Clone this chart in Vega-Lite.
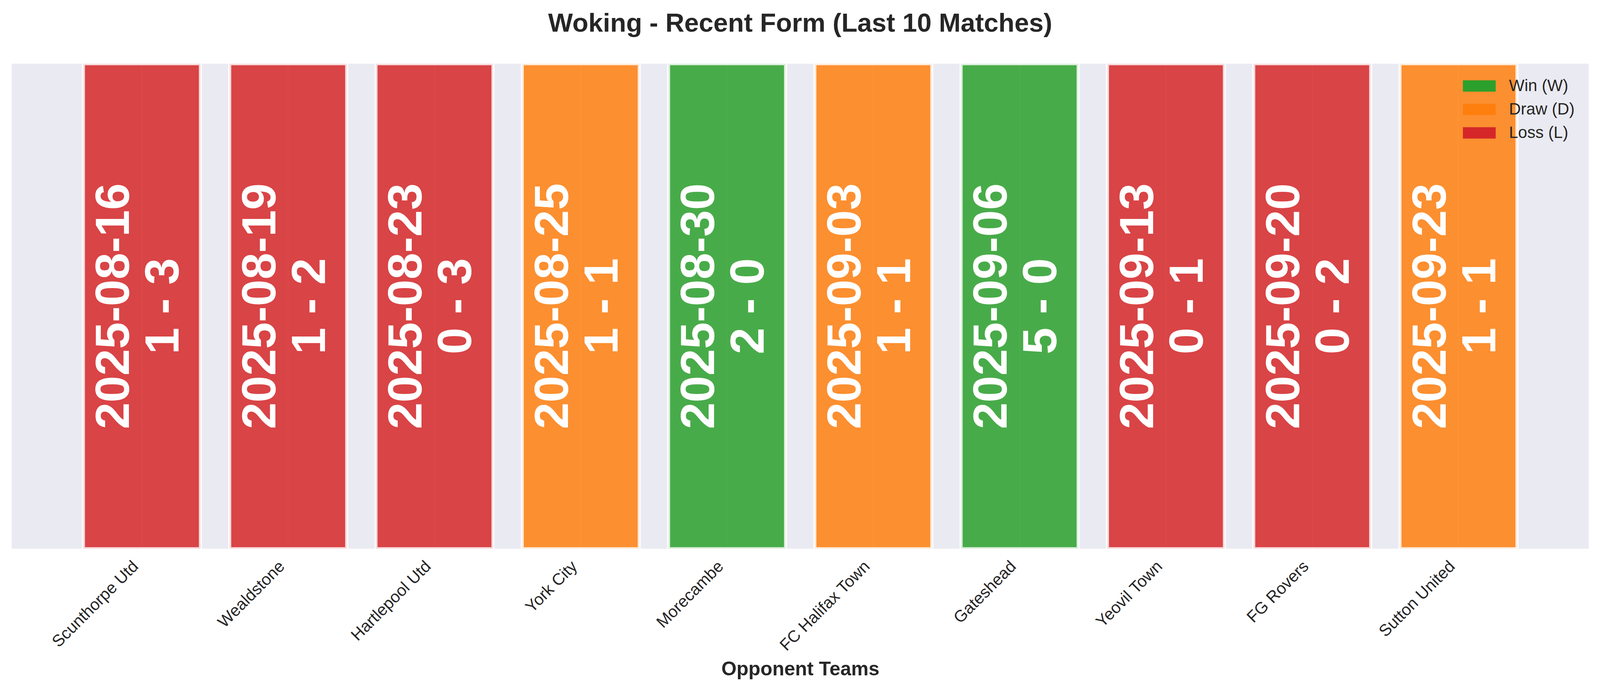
{
  "$schema": "https://vega.github.io/schema/vega-lite/v6.json",
  "autosize": {"type": "fit-x", "contains": "padding"},
  "width": "container",
  "height": 1241,
  "padding": {"left": 30, "top": 27, "right": 29, "bottom": 20},
  "background": "white",
  "title": {
    "text": "Woking - Recent Form (Last 10 Matches)",
    "fontSize": 67,
    "fontWeight": "bold",
    "font": "Liberation Sans",
    "color": "#262626",
    "baseline": "alphabetic",
    "anchor": "middle",
    "offset": 15
  },
  "data": {
    "values": [
      {"opponent": "Scunthorpe Utd", "date": "2025-08-16", "score": "1 - 3", "result": "Loss (L)"},
      {"opponent": "Wealdstone", "date": "2025-08-19", "score": "1 - 2", "result": "Loss (L)"},
      {"opponent": "Hartlepool Utd", "date": "2025-08-23", "score": "0 - 3", "result": "Loss (L)"},
      {"opponent": "York City", "date": "2025-08-25", "score": "1 - 1", "result": "Draw (D)"},
      {"opponent": "Morecambe", "date": "2025-08-30", "score": "2 - 0", "result": "Win (W)"},
      {"opponent": "FC Halifax Town", "date": "2025-09-03", "score": "1 - 1", "result": "Draw (D)"},
      {"opponent": "Gateshead", "date": "2025-09-06", "score": "5 - 0", "result": "Win (W)"},
      {"opponent": "Yeovil Town", "date": "2025-09-13", "score": "0 - 1", "result": "Loss (L)"},
      {"opponent": "FG Rovers", "date": "2025-09-20", "score": "0 - 2", "result": "Loss (L)"},
      {"opponent": "Sutton United", "date": "2025-09-23", "score": "1 - 1", "result": "Draw (D)"}
    ]
  },
  "encoding": {
    "x": {
      "field": "opponent",
      "type": "nominal",
      "sort": null,
      "scale": {"paddingInner": 0.2, "paddingOuter": 0.49},
      "axis": {
        "title": "Opponent Teams",
        "titleFontSize": 50,
        "titleFontWeight": "bold",
        "titleFont": "Liberation Sans",
        "titleColor": "#262626",
        "titleBaseline": "alphabetic",
        "titleY": 323,
        "labelAngle": -45,
        "labelAlign": "right",
        "labelBaseline": "top",
        "labelOffset": -30,
        "labelPadding": 24,
        "labelLimit": 1000,
        "labelFontSize": 42,
        "labelFont": "Liberation Sans",
        "labelColor": "#262626",
        "domain": false,
        "ticks": false,
        "grid": true,
        "gridColor": "white",
        "gridWidth": 3
      }
    }
  },
  "layer": [
    {
      "mark": {
        "type": "bar",
        "fillOpacity": 0.85,
        "stroke": "white",
        "strokeWidth": 8,
        "strokeOpacity": 0.8,
        "clip": true
      },
      "encoding": {
        "y": {
          "datum": 1,
          "type": "quantitative",
          "scale": {"domain": [0, 1], "nice": false},
          "axis": null
        },
        "color": {
          "field": "result",
          "type": "nominal",
          "scale": {
            "domain": ["Win (W)", "Draw (D)", "Loss (L)"],
            "range": ["#2ca02c", "#ff7f0e", "#d62728"]
          },
          "legend": {
            "title": null,
            "orient": "top-right",
            "offset": 36,
            "padding": 0,
            "symbolType": "M-2,-0.69H2V0.69H-2Z",
            "symbolSize": 1764,
            "symbolStrokeWidth": 0,
            "symbolOpacity": 1,
            "labelFontSize": 42,
            "labelFont": "Liberation Sans",
            "labelColor": "#262626",
            "labelOffset": 55,
            "labelLimit": 1000,
            "rowPadding": 18
          }
        }
      }
    },
    {
      "transform": [{"calculate": "[datum.date, datum.score]", "as": "label"}],
      "mark": {
        "type": "text",
        "angle": 270,
        "align": "center",
        "baseline": "middle",
        "fontSize": 123,
        "fontWeight": "bold",
        "font": "Liberation Sans",
        "lineHeight": 127,
        "dy": -70,
        "color": "white"
      },
      "encoding": {
        "y": {"datum": 0.5, "type": "quantitative"},
        "text": {"field": "label"}
      }
    }
  ],
  "config": {
    "view": {"fill": "#EAEAF2", "stroke": null}
  }
}
